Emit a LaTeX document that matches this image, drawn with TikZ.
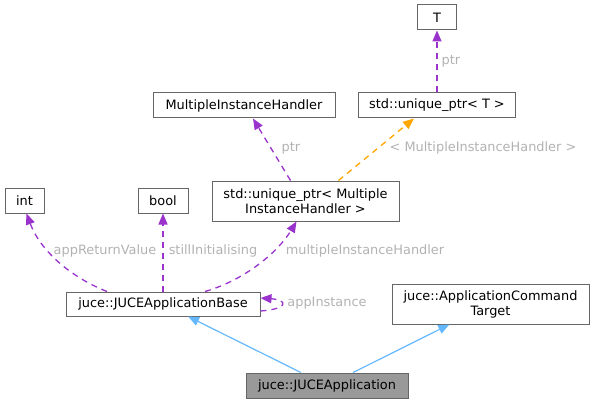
\documentclass[tikz,border=0pt]{standalone}
\usepackage{fontspec}
\setmainfont{DejaVu Sans}
\usepackage{xcolor}
\usepackage{tikz}
\usetikzlibrary{arrows.meta}
\definecolor{boxline}{rgb}{0.4,0.4,0.4}
\definecolor{boxhigh}{rgb}{0.6,0.6,0.6}
\definecolor{usedby}{rgb}{0.6,0.2,0.8}
\definecolor{tmplarg}{rgb}{1,0.65,0}
\definecolor{inherit}{rgb}{0.39,0.72,1}
\definecolor{labelgrey}{rgb}{0.7,0.7,0.7}

\begin{document}
\begin{tikzpicture}[x=1pt,y=-1pt,
    cls/.style={draw=boxline,fill=white,line width=1pt,inner sep=2pt,
        minimum height=25pt,font=\fontsize{12.9}{15}\selectfont,align=center},
    member/.style={usedby,line width=1.3pt,dash pattern=on 6pt off 5pt,
        -{Triangle[length=11pt,width=9pt]}},
    tmpl/.style={tmplarg,line width=1.3pt,dash pattern=on 6pt off 5pt,
        -{Triangle[length=11pt,width=9pt]}},
    base/.style={inherit,line width=1.2pt,-{Triangle[length=11pt,width=9pt]}},
    elabel/.style={text=labelgrey,font=\fontsize{12.9}{15}\selectfont,inner sep=0pt}]
    \useasboundingbox (0,0) rectangle (595,404);

    % draw classes
    \node[cls,minimum width=39pt] (T) at (437,17.5) {T};
    \node[cls,minimum width=157pt] (uptrT) at (437,105.5) {std::unique\_ptr< T >};
    \node[cls,minimum width=182pt] (mih) at (244,105.5) {MultipleInstanceHandler};
    \node[cls,minimum width=187pt,minimum height=40pt] (uptrMih) at (305.5,201)
        {std::unique\_ptr< Multiple\\InstanceHandler >};
    \node[cls,minimum width=39pt] (int) at (24.5,200.5) {int};
    \node[cls,minimum width=50pt] (bool) at (163,200.5) {bool};
    \node[cls,minimum width=194pt,minimum height=24pt] (appBase) at (163,304) {juce::JUCEApplicationBase};
    \node[cls,minimum width=197pt,minimum height=40pt] (cmdTarget) at (490.5,304)
        {juce::ApplicationCommand\\Target};
    \node[cls,fill=boxhigh,minimum width=162pt] (app) at (327,385.5) {juce::JUCEApplication};

    % draw members
    \draw[member] (uptrT) -- (T);
    \draw[member] ([xshift=-15pt]uptrMih.north) -- ([xshift=9pt]mih.south);
    \draw[tmpl] ([xshift=33pt]uptrMih.north) -- ([xshift=-23pt]uptrT.south);
    \draw[member] ([xshift=-56pt]appBase.north) .. controls (70,277) and (40,250) .. ([xshift=2pt]int.south);
    \draw[member] (appBase) -- (bool);
    \draw[member] ([xshift=42pt]appBase.north) .. controls (245,280) and (278,252) .. ([xshift=-9pt]uptrMih.south);
    \draw[member] ([yshift=-7pt]appBase.east) .. controls +(28,-2) and +(28,2) .. ([yshift=6pt]appBase.east);

    % draw bases
    \draw[base] (app) -- (appBase);
    \draw[base] (app) -- (cmdTarget);

    % draw labels
    \node[elabel] (lblPtrT) at (451,61) {ptr};
    \node[elabel] (lblPtrMih) at (291,148) {ptr};
    \node[elabel] (lblArg) at (483,148) {< MultipleInstanceHandler >};
    \node[elabel] (lblRet) at (105,251) {appReturnValue};
    \node[elabel] (lblInit) at (213,251) {stillInitialising};
    \node[elabel] (lblHandler) at (365,251) {multipleInstanceHandler};
    \node[elabel] (lblInst) at (327,303) {appInstance};
\end{tikzpicture}
\end{document}
